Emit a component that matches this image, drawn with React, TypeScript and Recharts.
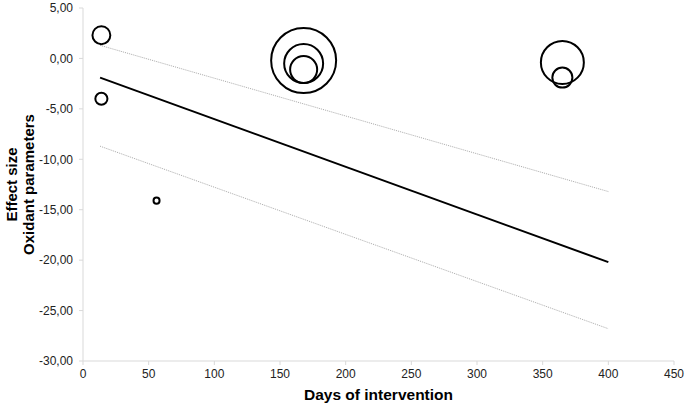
import React from "react";
import { ComposedChart, Scatter, Line, XAxis, YAxis, ZAxis, Label } from "recharts";

// study points: days of intervention, effect size, relative weight (%)
const studyDays = [14, 14, 56, 168, 168, 168, 365, 365];
const studyEffects = [2.3, -4.0, -14.1, -0.2, -0.5, -1.1, -0.4, -1.9];
const studyWeights = [3.5, 1.6, 0.4, 46.2, 16.6, 8.0, 20.2, 4.4];

// meta-regression fit and confidence limits
const fitDays = [13, 400];
const fitEffect = [-1.9, -20.2];
const upperCI = [1.3, -13.2];
const lowerCI = [-8.7, -26.8];

const xTicks = [0, 50, 100, 150, 200, 250, 300, 350, 400, 450];
const yTicks = [-30, -25, -20, -15, -10, -5, 0, 5];

const studies = studyDays.map((d, i) => ({ x: d, y: studyEffects[i], weight: studyWeights[i] }));
const fitLine = fitDays.map((d, i) => ({ x: d, y: fitEffect[i] }));
const upperLine = fitDays.map((d, i) => ({ x: d, y: upperCI[i] }));
const lowerLine = fitDays.map((d, i) => ({ x: d, y: lowerCI[i] }));

const FONT = "'Liberation Sans', Arial, sans-serif";
const AXIS = "#d9d9d9";

const fmt = (v: number) => v.toFixed(2).replace(".", ",");

function YTitle(props: any) {
  const vb = props.viewBox || {};
  const cy = vb.y + vb.height / 2;
  return (
    <g fontFamily={FONT} fontWeight="bold" fontSize={15} fill="#000">
      <text x={17} y={cy} transform={`rotate(-90, 17, ${cy})`} textAnchor="middle">
        Effect size
      </text>
      <text x={34} y={cy} transform={`rotate(-90, 34, ${cy})`} textAnchor="middle">
        Oxidant parameters
      </text>
    </g>
  );
}

export default function App() {
  return (
    <div style={{ position: "absolute", left: 0, top: 0, background: "#fff" }}>
      <ComposedChart width={685} height={404} margin={{ top: 8, right: 11, bottom: 0, left: 0 }}>
        <XAxis
          type="number"
          dataKey="x"
          domain={[0, 450]}
          ticks={xTicks}
          height={43}
          stroke={AXIS}
          tickSize={4}
          tickMargin={4}
          tick={{ fill: "#222", fontSize: 12, fontFamily: FONT }}
        >
          <Label
            value="Days of intervention"
            position="insideBottom"
            offset={4}
            style={{ fontFamily: FONT, fontWeight: "bold", fontSize: 15.5, fill: "#000" }}
          />
        </XAxis>
        <YAxis
          type="number"
          dataKey="y"
          domain={[-30, 5]}
          ticks={yTicks}
          width={83}
          stroke={AXIS}
          tickSize={4}
          tickMargin={6}
          tickFormatter={fmt}
          tick={{ fill: "#222", fontSize: 12, fontFamily: FONT }}
        >
          <Label content={<YTitle />} />
        </YAxis>
        <ZAxis type="number" dataKey="weight" domain={[0, 46.2]} range={[0, 3318]} />
        <Line
          data={upperLine}
          dataKey="y"
          stroke="#aaa"
          strokeWidth={1}
          strokeDasharray="1 1"
          dot={false}
          isAnimationActive={false}
        />
        <Line
          data={lowerLine}
          dataKey="y"
          stroke="#aaa"
          strokeWidth={1}
          strokeDasharray="1 1"
          dot={false}
          isAnimationActive={false}
        />
        <Line
          data={fitLine}
          dataKey="y"
          stroke="#000"
          strokeWidth={2}
          dot={false}
          isAnimationActive={false}
        />
        <Scatter
          data={studies}
          shape="circle"
          fill="none"
          stroke="#000"
          strokeWidth={2}
          isAnimationActive={false}
        />
      </ComposedChart>
    </div>
  );
}
